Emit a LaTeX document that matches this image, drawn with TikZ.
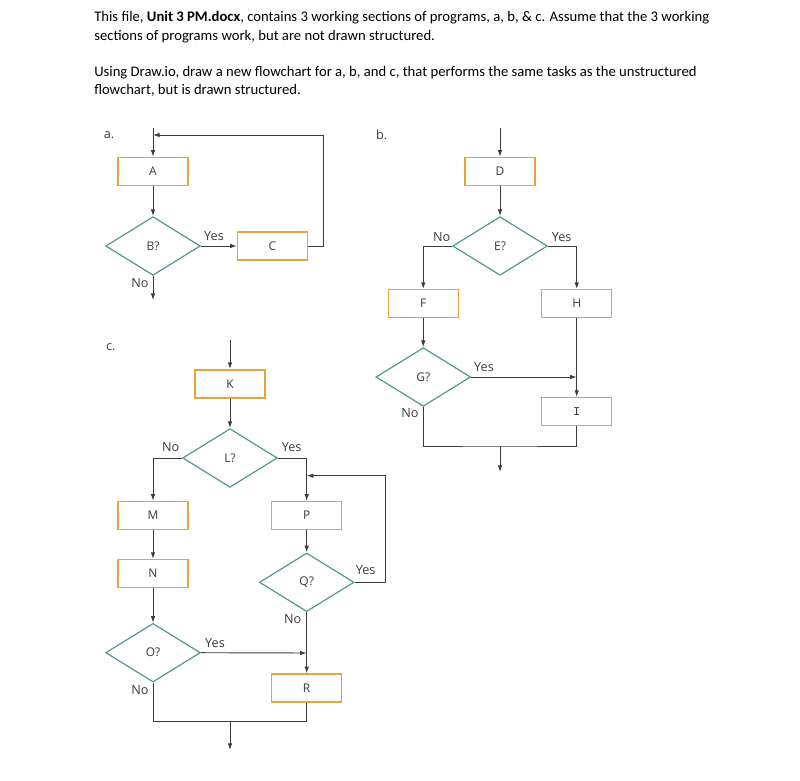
\documentclass[tikz,border=0pt]{standalone}
\usepackage{fontspec}
\setmainfont{Carlito}
\newfontfamily\diafont{Open Sans}
\newfontfamily\ifont{Liberation Mono}
\usetikzlibrary{shapes.geometric,arrows.meta}
\definecolor{boxc}{RGB}{231,163,62}
\definecolor{diac}{RGB}{82,152,146}
\definecolor{linec}{RGB}{60,60,60}
\tikzset{
  box/.style={draw=boxc,line width=1.1pt,fill=white,minimum width=52.5pt,minimum height=21pt,inner sep=0pt,font=\diafont\fontsize{9}{10}\selectfont,text=linec},
  dia/.style={draw=diac,line width=0.9pt,fill=white,diamond,minimum width=71pt,minimum height=44pt,inner sep=0pt,font=\diafont\fontsize{9}{10}\selectfont,text=linec},
  conn/.style={draw=linec,line width=0.7pt},
  arr/.style={conn,-{Latex[length=5pt,width=3.4pt]}},
  lbl/.style={font=\diafont\fontsize{9.5}{10}\selectfont,text=linec,inner sep=0pt},
  para/.style={anchor=base west,inner sep=0pt,font=\fontsize{11}{13}\selectfont},
}
\begin{document}
\begin{tikzpicture}[x=0.75pt,y=-0.75pt]
\path[use as bounding box] (0,0) rectangle (800,781);
% header text
\node[para] (t1) at (94,22) {This file, \textbf{Unit 3 PM.docx}, contains 3 working sections of programs, a, b, \& c. Assume that the 3 working};
\node[para] (t2) at (94,41) {sections of programs work, but are not drawn structured.};
\node[para] (t3) at (94,77) {Using Draw.io, draw a new flowchart for a, b, and c, that performs the same tasks as the unstructured};
\node[para] (t4) at (94,95) {flowchart, but is drawn structured.};

% ---------- a ----------
\node[lbl] (la) at (109,135) {a.};
\coordinate (aIn) at (153,128);
\coordinate (aTop) at (153,135);
\node[box] (A) at (153,171.5) {A};
\node[dia] (B) at (153,246) {B?};
\node[box] (C) at (272.5,246) {C};
\coordinate (aOut) at (153,300);
\draw[arr] (aIn) -- (A);
\draw[arr] (A) -- (B);
\draw[arr] (B) -- (C);
\draw[arr] (C.east) -- ++(15,0) |- (aTop);
\draw[arr] (B.south) -- (aOut);
\node[lbl] (aYes) at (214,236) {Yes};
\node[lbl] (aNo) at (140,283) {No};

% ---------- b ----------
\node[lbl] (lb) at (381.7,135) {b.};
\coordinate (bIn) at (500,128);
\node[box] (D) at (500,171.5) {D};
\node[dia] (E) at (500,246) {E?};
\node[box] (F) at (423.3,303.7) {F};
\node[box] (H) at (576.7,303.7) {H};
\node[dia] (G) at (423.3,377) {G?};
\node[box,font=\ifont\fontsize{9}{10}\selectfont] (I) at (576.7,411.7) {I};
\coordinate (bJ) at (576.7,377);
\coordinate (bM) at (500,446);
\coordinate (bOut) at (500,472);
\draw[arr] (bIn) -- (D);
\draw[arr] (D) -- (E);
\draw[arr] (E.west) -| (F.north);
\draw[arr] (E.east) -| (H.north);
\draw[arr] (F) -- (G);
\draw[arr] (G.east) -- (bJ);
\draw[arr] (H.south) -- (I.north);
\draw[conn] (G.south) |- (bM) -| (I.south);
\draw[arr] (bM) -- (bOut);
\node[lbl] (bNo1) at (441.7,236.7) {No};
\node[lbl] (bYes1) at (561.7,236.7) {Yes};
\node[lbl] (bYes2) at (484,366.7) {Yes};
\node[lbl] (bNo2) at (410,413) {No};

% ---------- c ----------
\node[lbl] (lc) at (110.7,347.3) {c.};
\coordinate (cIn) at (230,340);
\node[box] (K) at (230,383.8) {K};
\node[dia] (L) at (230,458) {L?};
\node[box] (M) at (153,515.5) {M};
\node[box] (P) at (306.7,515.5) {P};
\node[box] (N) at (153,573.7) {N};
\node[dia] (Q) at (306.7,582.3) {Q?};
\node[dia] (O) at (153,652.7) {O?};
\node[box] (R) at (306.7,688) {R};
\coordinate (cJ1) at (306.7,475.7);
\coordinate (cJ2) at (306.7,653);
\coordinate (cM) at (230,721.7);
\coordinate (cOut) at (230,750);
\draw[arr] (cIn) -- (K);
\draw[arr] (K) -- (L);
\draw[arr] (L.west) -| (M.north);
\draw[arr] (L.east) -| (P.north);
\draw[arr] (M) -- (N);
\draw[arr] (N) -- (O);
\draw[arr] (P) -- (Q);
\draw[arr] (Q) -- (R);
\draw[arr] (Q.east) -- ++(30.7,0) |- (cJ1);
\draw[arr] (O.east) -- (cJ2);
\draw[conn] (O.south) |- (cM) -| (R.south);
\draw[arr] (cM) -- (cOut);
\node[lbl] (cNo1) at (170.7,447.3) {No};
\node[lbl] (cYes1) at (291.7,447.3) {Yes};
\node[lbl] (cYes2) at (365.7,570) {Yes};
\node[lbl] (cNo2) at (292.7,619.3) {No};
\node[lbl] (cYes3) at (215,642.7) {Yes};
\node[lbl] (cNo3) at (140,690) {No};
\end{tikzpicture}
\end{document}
